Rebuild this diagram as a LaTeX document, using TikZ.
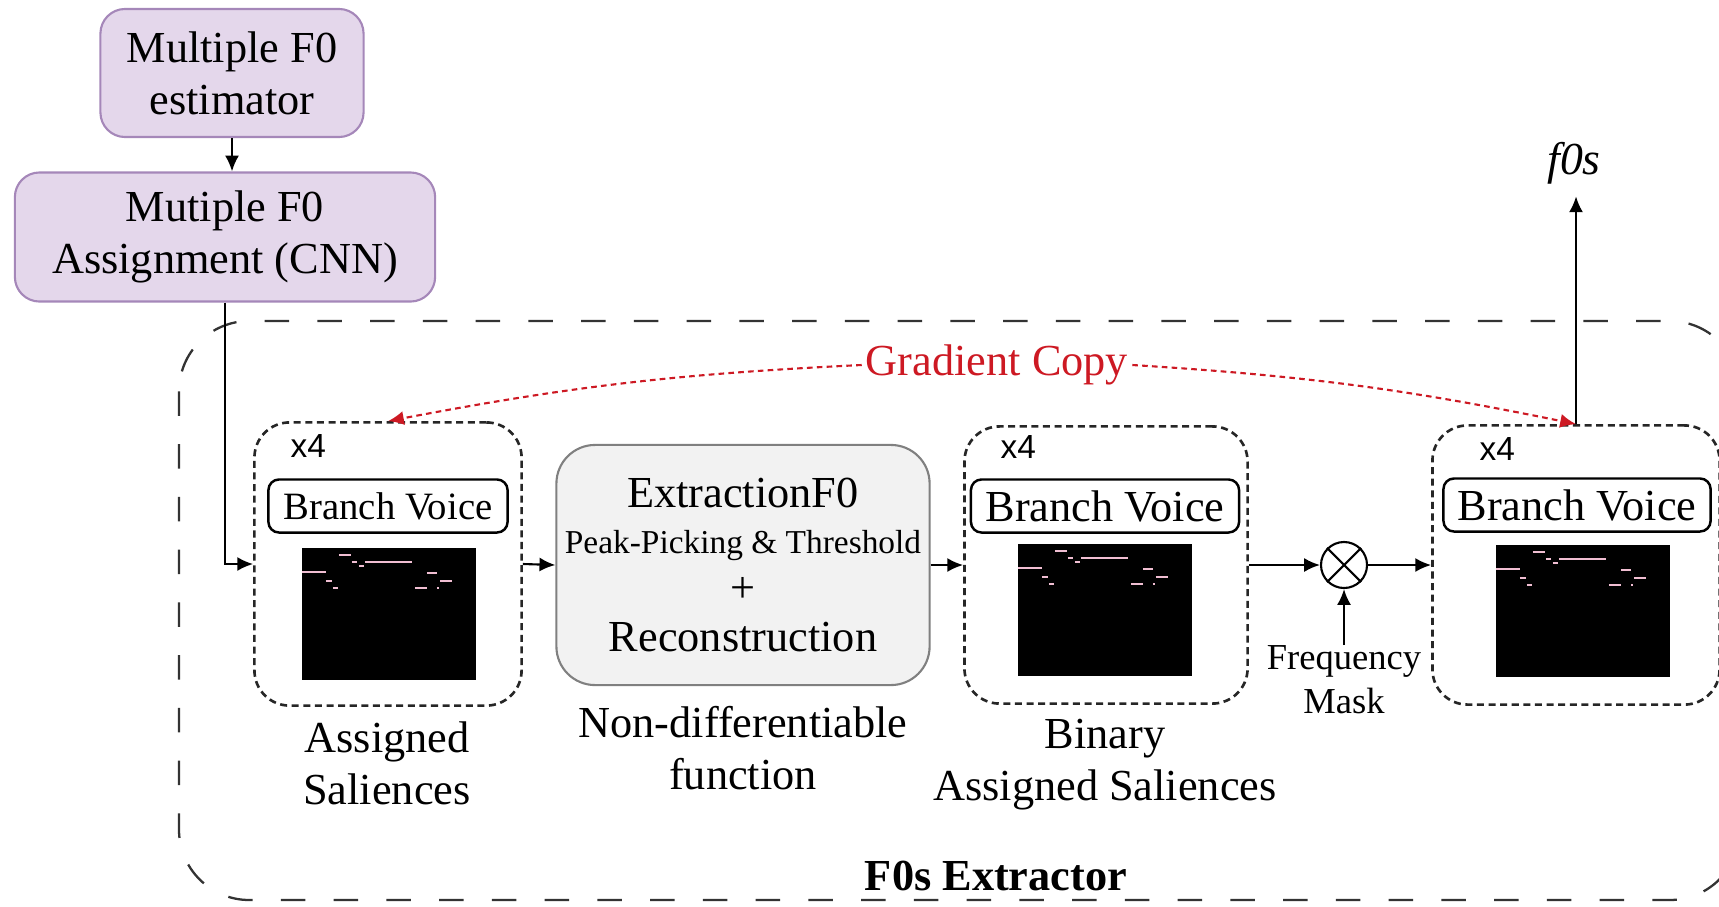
\documentclass[tikz,border=0pt]{standalone}
\usepackage{fontspec}
\setmainfont{Liberation Serif}
\newfontfamily\arialfont{Liberation Sans}
\usepackage{tikz}
\usetikzlibrary{arrows.meta,positioning,calc}
\definecolor{lilla}{RGB}{228,215,235}
\definecolor{lillabordo}{RGB}{165,135,185}
\definecolor{grigiochiaro}{RGB}{242,242,242}
\definecolor{rossograd}{RGB}{205,25,35}
\definecolor{notarosa}{RGB}{240,190,210}
\tikzset{
  f0box/.style={draw=lillabordo,fill=lilla,rounded corners=7pt,line width=0.6pt,align=center,inner sep=0pt},
  extbox/.style={draw=black!50,fill=grigiochiaro,rounded corners=11pt,line width=0.6pt,align=center,inner sep=0pt},
  salbox/.style={draw=black!85,dash pattern=on 2pt off 1.3pt,rounded corners=10pt,line width=0.75pt},
  voicebox/.style={draw,rounded corners=3pt,line width=0.7pt,minimum height=0.53cm,inner sep=0pt},
  salimg/.style={fill=black,minimum width=1.73cm,minimum height=1.32cm,inner sep=0pt},
  outbox/.style={draw=black!80,dash pattern=on 7pt off 8pt,rounded corners=20pt,line width=0.65pt},
  xlab/.style={font=\arialfont\fontsize{9.5}{11}\selectfont,inner sep=0pt},
  lblnode/.style={align=center,inner sep=0pt},
  gradarc/.style={-{Latex[length=4.5pt,width=4pt]},rossograd,dash pattern=on 1.6pt off 1.2pt,line width=0.6pt},
  flowarc/.style={->,line width=0.6pt}
}
% pink pitch tracks on a black salience map
\newcommand{\salnotes}[1]{%
  \begin{scope}[shift={(#1.north west)},notarosa,line width=0.6pt]
    \foreach \xa/\xb/\yy in {37/49/8,50/55/15,57/62/19,63/110/15,0/24/25,24/30/34,31/36/41,125/135/26,138/150/34,113/125/41,135/137/41}
      \draw (\xa,\yy) -- (\xb,\yy);
  \end{scope}}

\begin{document}
\begin{tikzpicture}[x=0.01cm,y=-0.01cm,>={Latex[length=4.5pt,width=4pt]},font={\fontsize{12.6}{14.8}\selectfont}]
  \useasboundingbox (0,0) rectangle (1719,906);
  % extractor frame
  \draw[outbox] (179,321) rectangle (1740,900);
  \node[font={\bfseries\fontsize{12.6}{14.8}\selectfont}] (titolo) at (996,876) {F0s Extractor};

  % upstream blocks
  \node[f0box,minimum width=2.63cm,minimum height=1.28cm] (est) at (232,73) {Multiple F0\\estimator};
  \node[f0box,minimum width=4.2cm,minimum height=1.29cm] (assign) at (225,237) {Mutiple F0\\Assignment (CNN)};

  % assigned saliences
  \node[salbox,minimum width=2.67cm,minimum height=2.83cm] (salA) at (388,564) {};
  \node[xlab,anchor=west] (xA) at (290,446) {x4};
  \node[voicebox,minimum width=2.39cm,font={\fontsize{11}{13}\selectfont}] (voiceA) at (388,506) {Branch Voice};
  \node[salimg] (imgA) at (389,614) {};
  \salnotes{imgA}
  \node[lblnode] (lblA) at (387,763) {Assigned\\Saliences};

  % peak picking block
  \node[extbox,minimum width=3.73cm,minimum height=2.4cm,font={\fontsize{12.6}{14}\selectfont}] (ext) at (743,565)
    {ExtractionF0\\[-1pt]{\fontsize{9.5}{11}\selectfont Peak-Picking \& Threshold}\\+\\Reconstruction};
  \node[lblnode] (lblE) at (743,748) {Non-differentiable\\function};

  % binary saliences
  \node[salbox,minimum width=2.83cm,minimum height=2.77cm] (salB) at (1106,565) {};
  \node[xlab,anchor=west] (xB) at (1000,447) {x4};
  \node[voicebox,minimum width=2.68cm] (voiceB) at (1105,506) {Branch Voice};
  \node[salimg] (imgB) at (1105,610) {};
  \salnotes{imgB}
  \node[lblnode] (lblB) at (1105,765) {Binary\\Assigned Saliences};

  % masking
  \node[circle,draw,line width=0.6pt,minimum size=0.46cm,inner sep=0pt] (mul) at (1344,565) {};
  \draw[line width=0.6pt] (mul.north west) -- (mul.south east) (mul.north east) -- (mul.south west);
  \node[lblnode,font={\fontsize{10.4}{12.5}\selectfont}] (fmask) at (1344,680) {Frequency\\Mask};

  % masked saliences
  \node[salbox,minimum width=2.87cm,minimum height=2.79cm] (salC) at (1576,565) {};
  \node[xlab,anchor=west] (xC) at (1479,449) {x4};
  \node[voicebox,minimum width=2.67cm] (voiceC) at (1577,505) {Branch Voice};
  \node[salimg] (imgC) at (1583,611) {};
  \salnotes{imgC}

  \node[font={\itshape\fontsize{13}{15}\selectfont}] (f0s) at (1574,163) {f0s};
  \node[text=rossograd,inner sep=1pt] (grad) at (997,365) {Gradient Copy};

  % connections
  \draw[flowarc] (est.south) -- (est.south |- assign.north);
  \draw[flowarc] (assign.south) |- (salA.west);
  \draw[flowarc] (salA.east) -- (ext.west);
  \draw[flowarc] (ext.east) -- (salB.west);
  \draw[flowarc] (salB.east) -- (mul.west);
  \draw[flowarc] (mul.east) -- (salC.west);
  \draw[flowarc] (fmask.north) -- (mul.south);
  \draw[flowarc] (salC.north) -- (salC.north |- f0s.south);
  \draw[gradarc] (grad.west) to[bend right=4] (salA.north);
  \draw[gradarc] (grad.east) to[bend left=4] (salC.north);
\end{tikzpicture}
\end{document}
